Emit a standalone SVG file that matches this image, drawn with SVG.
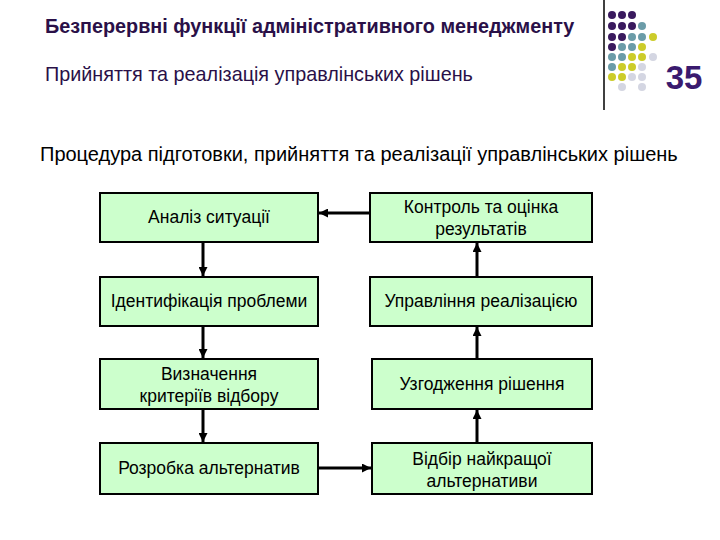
<svg xmlns="http://www.w3.org/2000/svg" width="720" height="540" viewBox="0 0 720 540">
<defs>
<marker id="ah" viewBox="0 0 10 10" refX="10" refY="5" markerWidth="3" markerHeight="3" orient="auto" markerUnits="strokeWidth">
<path d="M0,0 L10,5 L0,10 z" fill="#000"/>
</marker>
<style>
.box{fill:#ccffcc;stroke:#000;stroke-width:2}
.bt{font-family:"Liberation Sans",Arial,sans-serif;font-size:17.5px;fill:#000;text-anchor:middle}
.con{stroke:#000;stroke-width:3;fill:none;marker-end:url(#ah)}
.p{fill:#3a1a5e}.t{fill:#6b9ca8}.y{fill:#cccc2a}.l{fill:#d4d6e2}
</style>
</defs>
<rect width="720" height="540" fill="#fff"/>
<g id="header">
<text x="45" y="33" font-family="'Liberation Sans',Arial,sans-serif" font-size="19.8" font-weight="bold" fill="#2a1048">Безперервні функції адміністративного менеджменту</text>
<text x="45" y="81" font-family="'Liberation Sans',Arial,sans-serif" font-size="19.8" fill="#2a1048">Прийняття та реалізація управлінських рішень</text>
<line x1="604" y1="0" x2="604" y2="110" stroke="#000" stroke-width="1.5"/>
<g id="dots">
<circle class="p" cx="612" cy="15" r="4"/><circle class="p" cx="622" cy="15" r="4"/><circle class="p" cx="632" cy="15" r="4"/>
<circle class="p" cx="612" cy="26" r="4"/><circle class="p" cx="622" cy="26" r="4"/><circle class="p" cx="632" cy="26" r="4"/><circle class="t" cx="642" cy="26" r="4"/>
<circle class="p" cx="612" cy="37" r="4"/><circle class="p" cx="622" cy="37" r="4"/><circle class="t" cx="632" cy="37" r="4"/><circle class="t" cx="642" cy="37" r="4"/><circle class="y" cx="653" cy="37" r="4"/>
<circle class="p" cx="612" cy="47" r="4"/><circle class="t" cx="622" cy="47" r="4"/><circle class="t" cx="632" cy="47" r="4"/><circle class="y" cx="642" cy="47" r="4"/>
<circle class="t" cx="612" cy="57" r="4"/><circle class="t" cx="622" cy="57" r="4"/><circle class="y" cx="632" cy="57" r="4"/><circle class="y" cx="642" cy="57" r="4"/><circle class="l" cx="653" cy="57" r="4"/>
<circle class="t" cx="612" cy="67" r="4"/><circle class="y" cx="622" cy="67" r="4"/><circle class="y" cx="632" cy="67" r="4"/><circle class="l" cx="642" cy="67" r="4"/>
<circle class="y" cx="612" cy="77" r="4"/><circle class="y" cx="622" cy="77" r="4"/><circle class="l" cx="632" cy="77" r="4"/><circle class="l" cx="642" cy="77" r="4"/>
<circle class="l" cx="622" cy="87" r="4"/><circle class="l" cx="642" cy="87" r="4"/>
</g>
<text x="684" y="89" text-anchor="middle" font-family="'Liberation Sans',Arial,sans-serif" font-size="33" font-weight="bold" fill="#3a1a6e">35</text>
<text x="40" y="161" font-family="'Liberation Sans',Arial,sans-serif" font-size="20" fill="#000">Процедура підготовки, прийняття та реалізації управлінських рішень</text>
</g>
<g id="connectors">
<line class="con" x1="203" y1="242" x2="203" y2="276"/>
<line class="con" x1="203" y1="326" x2="203" y2="358"/>
<line class="con" x1="203" y1="409" x2="203" y2="442"/>
<line class="con" x1="477" y1="443" x2="477" y2="410"/>
<line class="con" x1="477" y1="359" x2="477" y2="327"/>
<line class="con" x1="477" y1="277" x2="477" y2="243"/>
<line class="con" x1="370" y1="213" x2="319" y2="213"/>
<line class="con" x1="318" y1="468" x2="371" y2="468"/>
</g>
<g id="n1"><rect class="box" x="100" y="193" width="218" height="49"/><text class="bt" x="209" y="223">Аналіз ситуації</text></g>
<g id="n2"><rect class="box" x="100" y="277" width="218" height="49"/><text class="bt" x="209" y="307">Ідентифікація проблеми</text></g>
<g id="n3"><rect class="box" x="100" y="359" width="218" height="50"/><text class="bt" x="209" y="380">Визначення</text><text class="bt" x="209" y="402">критеріїв відбору</text></g>
<g id="n4"><rect class="box" x="100" y="443" width="218" height="51"/><text class="bt" x="209" y="474">Розробка альтернатив</text></g>
<g id="n5"><rect class="box" x="372" y="443" width="220" height="51"/><text class="bt" x="482" y="465">Відбір найкращої</text><text class="bt" x="482" y="487">альтернативи</text></g>
<g id="n6"><rect class="box" x="372" y="359" width="220" height="50"/><text class="bt" x="482" y="390">Узгодження рішення</text></g>
<g id="n7"><rect class="box" x="370" y="277" width="222" height="49"/><text class="bt" x="481" y="307">Управління реалізацією</text></g>
<g id="n8"><rect class="box" x="370" y="193" width="222" height="49"/><text class="bt" x="481" y="213">Контроль та оцінка</text><text class="bt" x="481" y="235">результатів</text></g>
</svg>
